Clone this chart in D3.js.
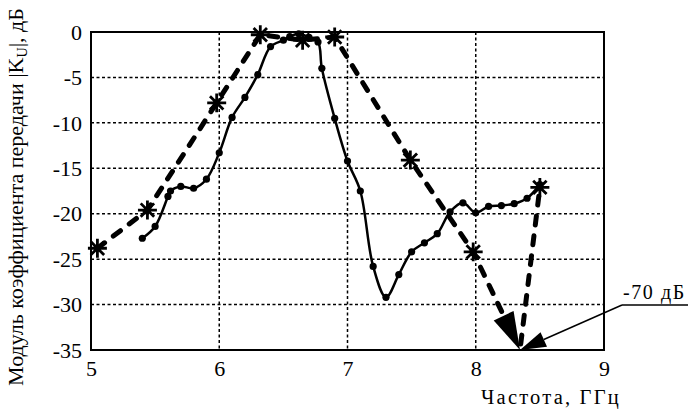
<!DOCTYPE html>
<html><head><meta charset="utf-8">
<script src="https://cdn.jsdelivr.net/npm/d3@7/dist/d3.min.js"></script>
<style>body{margin:0;background:#fff}svg{display:block}svg text{font-family:"Liberation Serif","DejaVu Serif",serif !important;fill:#000}</style>
</head><body><svg id="c" width="688" height="409"></svg>
<script>
// data
const xTicks = [5, 6, 7, 8, 9];
const yTicks = [0, -5, -10, -15, -20, -25, -30, -35];
const simFreq = [5.4,5.5,5.6,5.62,5.7,5.8,5.9,6.0,6.1,6.2,6.3,6.4,6.5,6.55,6.62,6.7,6.77,6.8,6.9,7.0,7.1,7.2,7.3,7.4,7.5,7.6,7.7,7.8,7.9,8.0,8.1,8.2,8.3,8.4,8.5];
const simGain = [-22.7,-21.4,-18.1,-17.5,-17.0,-17.2,-16.2,-13.3,-9.4,-7.2,-4.7,-1.6,-0.9,-0.5,-0.2,-0.6,-1.1,-4.0,-9.5,-14.2,-17.5,-25.8,-29.2,-26.7,-24.2,-23.2,-22.2,-19.8,-18.8,-19.9,-19.2,-19.1,-18.9,-18.3,-16.8];
const measFreq = [5.05,5.44,5.98,6.32,6.65,6.90,7.49,7.98,8.345,8.50];
const measGain = [-23.8,-19.6,-7.8,-0.3,-0.9,-0.55,-14.1,-24.2,-70,-17.1];
const noteText = "-70 дБ";
const xLabel = "Частота, ГГц";
const yLabel = ["Модуль коэффициента передачи |K", "U", "|, дБ"];

const FONT = '"Liberation Serif","DejaVu Serif",serif';
const svg = d3.select("#c");
const L = 91, R = 604, T = 32, B = 350;
const x = d3.scaleLinear().domain([5, 9]).range([L, R]);
const y = d3.scaleLinear().domain([-35, 0]).range([B, T]).clamp(true);

// grid
const g = svg.append("g");
g.selectAll(".gy").data(yTicks.filter(d => d !== 0 && d !== -35)).join("line")
  .attr("x1", L).attr("x2", R).attr("y1", d => y(d)).attr("y2", d => y(d))
  .attr("stroke", "#000").attr("stroke-width", 1.5).attr("stroke-dasharray", "3,2.5");
g.selectAll(".gx").data(xTicks.filter(d => d !== 5 && d !== 9)).join("line")
  .attr("y1", T).attr("y2", B).attr("x1", d => x(d)).attr("x2", d => x(d))
  .attr("stroke", "#000").attr("stroke-width", 1.5).attr("stroke-dasharray", "3,2.5");

// axes via d3 axis (labels only)
const ax = svg.append("g").attr("transform", `translate(0,${B})`)
  .call(d3.axisBottom(x).tickValues(xTicks).tickSize(0).tickPadding(8).tickFormat(d3.format("d")));
const ay = svg.append("g").attr("transform", `translate(${L},0)`)
  .call(d3.axisLeft(y).tickValues(yTicks).tickSize(0).tickPadding(9).tickFormat(d => d === 0 ? "0" : "-" + Math.abs(d)));
[ax, ay].forEach(a => { a.attr("font-family", FONT).attr("font-size", 22); a.select(".domain").remove(); a.selectAll("text").style("font-family", FONT).style("font-size", "22px"); });
ax.selectAll("text").attr("dy", "0.8em");
ay.selectAll("text").attr("dy", "0.33em");

// frame
svg.append("rect").attr("x", L).attr("y", T).attr("width", R - L).attr("height", B - T)
  .attr("fill", "none").attr("stroke", "#000").attr("stroke-width", 2);

// simulated (solid, dots)
const sim = simFreq.map((f, i) => [f, simGain[i]]);
svg.append("path").datum(sim)
  .attr("d", d3.line().x(d => x(d[0])).y(d => y(d[1])).curve(d3.curveCatmullRom.alpha(0.5)))
  .attr("fill", "none").attr("stroke", "#000").attr("stroke-width", 2.5);
svg.selectAll(".dot").data(sim).join("circle")
  .attr("cx", d => x(d[0])).attr("cy", d => y(d[1])).attr("r", 3.6).attr("fill", "#000");

// measured (dashed, stars)
const meas = measFreq.map((f, i) => [f, measGain[i]]);
const tipIdx = measGain.indexOf(-70);
const tip = [x(meas[tipIdx][0]), y(meas[tipIdx][1])];
const prev = [x(meas[tipIdx - 1][0]), y(meas[tipIdx - 1][1])];
function head(from, to, len, hw) {
  const dx = to[0] - from[0], dy = to[1] - from[1], l = Math.hypot(dx, dy);
  const ux = dx / l, uy = dy / l;
  const bx = to[0] - ux * len, by = to[1] - uy * len;
  return [[to[0], to[1]], [bx - uy * hw, by + ux * hw], [bx + uy * hw, by - ux * hw]];
}
const line1 = d3.line().x(d => x(d[0])).y(d => y(d[1]));
const dashStyle = s => s.attr("fill", "none").attr("stroke", "#000").attr("stroke-width", 5)
  .attr("stroke-dasharray", "9,11").attr("stroke-linecap", "round");
svg.append("path").datum(meas.slice(0, tipIdx)).attr("d", line1).call(dashStyle);
const h1 = head(prev, tip, 38, 11);
const segEnd = [(h1[1][0] + h1[2][0]) / 2, (h1[1][1] + h1[2][1]) / 2];
svg.append("path").attr("d", `M${prev[0]},${prev[1]}L${segEnd[0]},${segEnd[1]}`).call(dashStyle)
  .attr("stroke-dashoffset", 3);
svg.append("path").attr("d", "M" + h1.join("L") + "Z").attr("fill", "#000");
svg.append("path").datum(meas.slice(tipIdx)).attr("d", line1).call(dashStyle)
  .attr("stroke-dashoffset", -6);

const star = d3.symbol().type({draw(ctx, size) {
  const r = Math.sqrt(size);
  for (let k = 0; k < 4; k++) {
    const a = k * Math.PI / 4;
    ctx.moveTo(-r * Math.cos(a), -r * Math.sin(a));
    ctx.lineTo(r * Math.cos(a), r * Math.sin(a));
  }
}}).size(90);
svg.selectAll(".star").data(meas.filter(d => d[1] >= -35)).join("path")
  .attr("transform", d => `translate(${x(d[0])},${y(d[1])})`)
  .attr("d", star).attr("fill", "none").attr("stroke", "#000").attr("stroke-width", 2.8);

// annotation
const nx = 622, ny = 305;
svg.append("text").attr("x", nx + 1).attr("y", ny - 6).style("font-size", "20px")
  .attr("letter-spacing", "1.6px").text(noteText);
svg.append("line").attr("x1", nx).attr("x2", 688).attr("y1", ny).attr("y2", ny)
  .attr("stroke", "#000").attr("stroke-width", 1.5);
const h2 = head([nx, ny], tip, 26, 8);
const b2 = [(h2[1][0] + h2[2][0]) / 2, (h2[1][1] + h2[2][1]) / 2];
svg.append("line").attr("x1", nx).attr("y1", ny).attr("x2", b2[0]).attr("y2", b2[1])
  .attr("stroke", "#000").attr("stroke-width", 1.5);
svg.append("path").attr("d", "M" + h2.join("L") + "Z").attr("fill", "#000");

// axis titles
svg.append("text").attr("x", 551).attr("y", 404).attr("text-anchor", "middle")
  .style("font-size", "20.5px").attr("letter-spacing", "2.2px").text(xLabel);
const yl = svg.append("text").attr("transform", "translate(23,197) rotate(-90)")
  .attr("text-anchor", "middle").style("font-size", "22px");
yl.append("tspan").text(yLabel[0]);
yl.append("tspan").style("font-size", "14px").attr("dy", 4).text(yLabel[1]);
yl.append("tspan").attr("dy", -4).text(yLabel[2]);
</script></body></html>
